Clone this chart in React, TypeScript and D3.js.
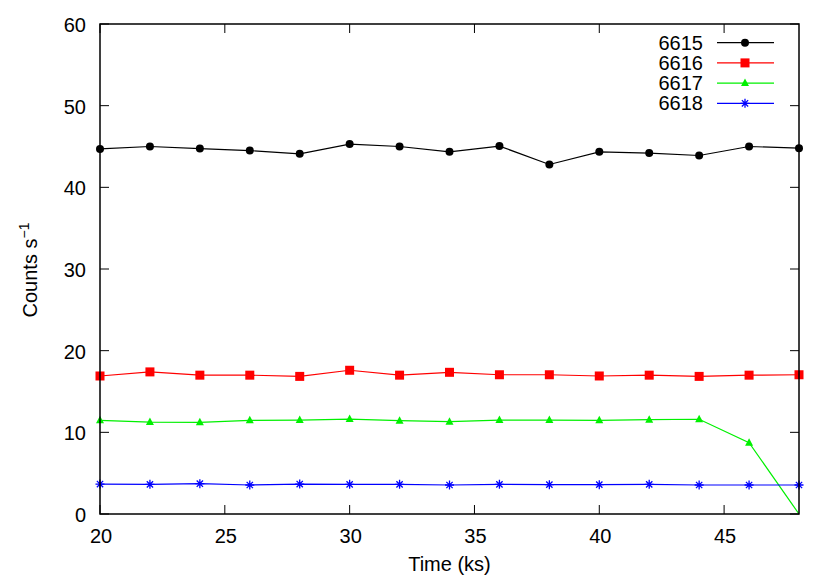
import * as d3 from "d3";
import { useEffect, useRef } from "react";

// time in ks
const times = [20, 22, 24, 26, 28, 30, 32, 34, 36, 38, 40, 42, 44, 46, 48];

const series6615 = [44.7, 45.0, 44.75, 44.5, 44.1, 45.3, 45.0, 44.35, 45.05, 42.8, 44.35, 44.2, 43.9, 45.0, 44.8];
const series6616 = [16.9, 17.4, 17.0, 17.0, 16.85, 17.6, 17.0, 17.35, 17.05, 17.05, 16.9, 17.0, 16.85, 17.0, 17.05];
const series6617 = [11.47, 11.26, 11.22, 11.47, 11.5, 11.62, 11.43, 11.3, 11.5, 11.5, 11.47, 11.55, 11.6, 8.73, 0];
const series6618 = [3.67, 3.63, 3.71, 3.55, 3.67, 3.63, 3.63, 3.55, 3.63, 3.59, 3.59, 3.63, 3.55, 3.55, 3.55];

const seriesNames = ["6615", "6616", "6617", "6618"];
const seriesColors = ["#000000", "#ff0000", "#00f000", "#0000ff"];
const seriesMarkers = ["circle", "square", "triangle", "star"];

const xTicks = [20, 25, 30, 35, 40, 45];
const yTicks = [0, 10, 20, 30, 40, 50, 60];

export default function App() {
  const refSvg = useRef<SVGSVGElement>(null);

  useEffect(() => {
    const svg = d3.select(refSvg.current);
    svg.selectAll("*").remove();

    const margin = { top: 24, left: 100, right: 31, bottom: 67 };
    const width = 830 - margin.left - margin.right;
    const height = 581 - margin.top - margin.bottom;

    const X = d3.scaleLinear().domain([20, 48]).range([0, width]);
    const Y = d3.scaleLinear().domain([0, 60]).range([height, 0]);

    const g = svg.append("g").attr("transform", `translate(${margin.left},${margin.top})`);
    const font = "'Liberation Sans', Arial, sans-serif";
    const fs = 20;

    //    ---------------   TICKS (inside, mirrored)  ------------------------
    const tickLen = 9;
    xTicks.forEach((t) => {
      g.append("line").attr("x1", X(t)).attr("x2", X(t)).attr("y1", height).attr("y2", height - tickLen)
        .attr("stroke", "#000").attr("stroke-width", 1);
      g.append("line").attr("x1", X(t)).attr("x2", X(t)).attr("y1", 0).attr("y2", tickLen)
        .attr("stroke", "#000").attr("stroke-width", 1);
      g.append("text").text(t).attr("x", X(t) + 1).attr("y", height + 29)
        .attr("text-anchor", "middle").attr("font-family", font).attr("font-size", fs);
    });
    yTicks.forEach((t) => {
      g.append("line").attr("x1", 0).attr("x2", tickLen).attr("y1", Y(t)).attr("y2", Y(t))
        .attr("stroke", "#000").attr("stroke-width", 1);
      g.append("line").attr("x1", width).attr("x2", width - tickLen).attr("y1", Y(t)).attr("y2", Y(t))
        .attr("stroke", "#000").attr("stroke-width", 1);
      g.append("text").text(t).attr("x", -14).attr("y", Y(t) + 8)
        .attr("text-anchor", "end").attr("font-family", font).attr("font-size", fs);
    });

    //    ---------------   SERIES  ------------------------
    const allSeries = [series6615, series6616, series6617, series6618];
    const line = d3.line<[number, number]>().x((d) => X(d[0])).y((d) => Y(d[1]));

    const drawMarker = (sel: any, kind: string, x: number, y: number, color: string) => {
      if (kind === "circle") {
        sel.append("circle").attr("cx", x).attr("cy", y).attr("r", 4).attr("fill", color);
      } else if (kind === "square") {
        sel.append("rect").attr("x", x - 4.5).attr("y", y - 4.5).attr("width", 9).attr("height", 9).attr("fill", color);
      } else if (kind === "triangle") {
        sel.append("path").attr("d", `M${x},${y - 4.5}L${x + 4},${y + 3}L${x - 4},${y + 3}Z`).attr("fill", color);
      } else {
        const r = 4.5;
        sel.append("path")
          .attr("d", `M${x - r},${y}H${x + r}M${x},${y - r}V${y + r}M${x - r * 0.7},${y - r * 0.7}L${x + r * 0.7},${y + r * 0.7}M${x - r * 0.7},${y + r * 0.7}L${x + r * 0.7},${y - r * 0.7}`)
          .attr("stroke", color).attr("stroke-width", 1.3).attr("fill", "none");
      }
    };

    allSeries.forEach((vals, i) => {
      const pts: [number, number][] = times.map((t, j) => [t, vals[j]]);
      const sg = g.append("g");
      sg.append("path").datum(pts).attr("d", line).attr("fill", "none")
        .attr("stroke", seriesColors[i]).attr("stroke-width", 1.2);
      // the last green point sits at zero on the frame; gnuplot shows no marker there
      pts.filter((p) => p[1] > 0).forEach((p) => drawMarker(sg, seriesMarkers[i], X(p[0]), Y(p[1]), seriesColors[i]));
    });

    //    ---------------   FRAME  ------------------------
    g.append("rect").attr("x", 0).attr("y", 0).attr("width", width).attr("height", height)
      .attr("fill", "none").attr("stroke", "#000").attr("stroke-width", 1.5);

    //    ---------------   LEGEND  ------------------------
    seriesNames.forEach((name, i) => {
      const ly = 42.7 + i * 20.2 - margin.top;
      g.append("text").text(name).attr("x", 703 - margin.left).attr("y", ly + 7)
        .attr("text-anchor", "end").attr("font-family", font).attr("font-size", fs);
      g.append("line").attr("x1", 717 - margin.left).attr("x2", 774 - margin.left).attr("y1", ly).attr("y2", ly)
        .attr("stroke", seriesColors[i]).attr("stroke-width", 1.2);
      drawMarker(g, seriesMarkers[i], 745 - margin.left, ly, seriesColors[i]);
    });

    //    ---------------   AXIS TITLES  ------------------------
    g.append("text").text("Time (ks)").attr("x", width / 2).attr("y", height + 57)
      .attr("text-anchor", "middle").attr("font-family", font).attr("font-size", fs);

    const yt = svg.append("text").attr("transform", `translate(37,${margin.top + height / 2 + 1}) rotate(-90)`)
      .attr("text-anchor", "middle").attr("font-family", font).attr("font-size", fs);
    yt.append("tspan").text("Counts s");
    yt.append("tspan").text("\u22121").attr("font-size", 14).attr("dy", -8);
  }, []);

  return (
    <svg ref={refSvg} width={830} height={581}
      style={{ position: "absolute", left: 0, top: 0, background: "#fff" }} />
  );
}
